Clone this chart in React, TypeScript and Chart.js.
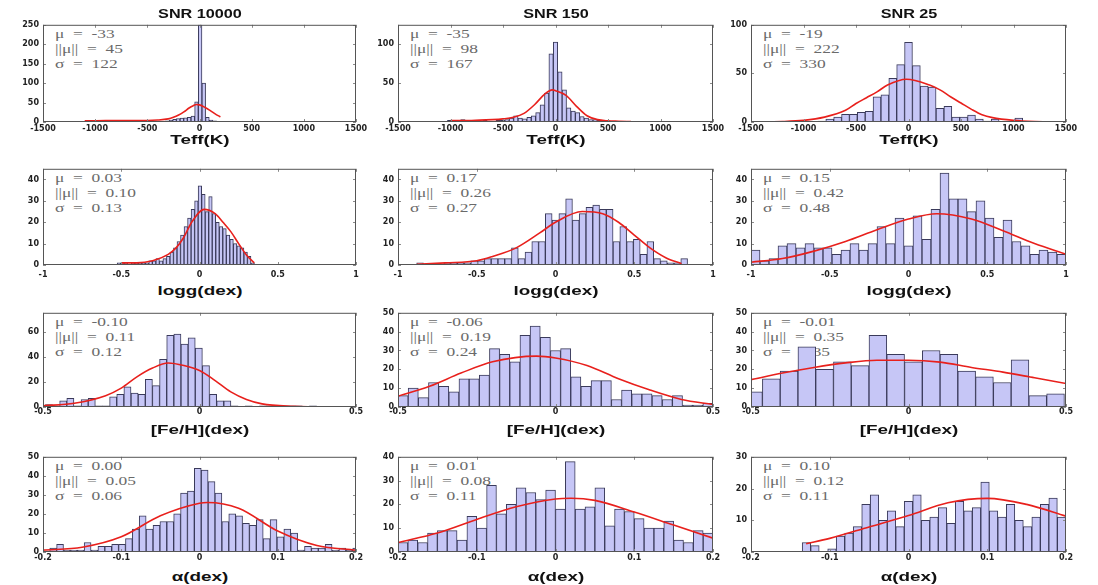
import React, { useEffect, useRef } from "react";
import { Chart, registerables } from "chart.js";

Chart.register(...registerables);

// ---------------- data ----------------
const columnTitles = ["SNR 10000", "SNR 150", "SNR 25"];
const rowLabels = ["Teff(K)", "logg(dex)", "[Fe/H](dex)", "α(dex)"];
const rowXMin = [-1500, -1, -0.5, -0.2];
const rowXMax = [1500, 1, 0.5, 0.2];
const rowXStep = [500, 0.5, 0.5, 0.1];
const panelYMax = [
  [250, 124, 100],
  [45, 45, 45],
  [75, 50, 50],
  [50, 40, 30],
];
const panelYStep = [
  [50, 50, 50],
  [10, 10, 10],
  [20, 10, 10],
  [10, 10, 10],
];

// Teff, SNR 10000
const teffA_binStart = -1079;
const teffA_binWidth = 35;
const teffA_counts = [1, 0, 1, 1, 0, 1, 1, 0, 1, 1, 0, 1, 1, 1, 0, 1, 1, 1, 2, 1, 2, 2, 3, 5, 7, 9, 10, 11, 12, 15, 52, 250, 100, 12, 5, 3, 2, 1];
const teffA_fitX = [-1100, -900, -700, -500, -400, -300, -250, -200, -150, -100, -60, -30, 0, 50, 100, 150, 200];
const teffA_fitY = [3, 4, 4, 4, 5, 8, 12, 18, 26, 36, 42, 45, 44, 38, 30, 21, 13];
const teffA_stats = ["μ = -33", "||μ|| = 45", "σ = 122"];

// Teff, SNR 150
const teffB_binStart = -1008;
const teffB_binWidth = 42;
const teffB_counts = [2, 1, 1, 3, 1, 1, 1, 1, 2, 1, 1, 2, 2, 3, 5, 8, 5, 4, 6, 8, 12, 22, 37, 87, 102, 64, 41, 18, 14, 12, 7, 5, 3, 3, 2, 2, 1, 1, 1, 1, 1, 1];
const teffB_fitX = [-1000, -800, -600, -500, -400, -300, -200, -100, -30, 0, 100, 200, 300, 400, 500, 600, 720];
const teffB_fitY = [2, 2, 3, 4, 6, 11, 22, 36, 41, 40, 34, 20, 8, 3, 1.5, 1, 0.5];
const teffB_stats = ["μ = -35", "||μ|| = 98", "σ = 167"];

// Teff, SNR 25
const teffC_binStart = -825;
const teffC_binWidth = 75;
const teffC_counts = [1, 3, 5, 8, 8, 10, 11, 26, 28, 45, 59, 82, 58, 37, 36, 14, 16, 5, 5, 7, 3, 1, 3, 0, 0, 4];
const teffC_fitX = [-1500, -1200, -1000, -800, -600, -500, -400, -300, -200, -19, 200, 300, 400, 500, 600, 700, 800, 1000, 1200, 1500];
const teffC_fitY = [0, 0.5, 1.7, 5, 12, 19, 25, 31, 38, 44, 38, 33, 26, 19.5, 13, 7.5, 4.5, 1.7, 0.5, 0];
const teffC_stats = ["μ = -19", "||μ|| = 222", "σ = 330"];

// logg, SNR 10000
const loggA_binStart = -0.515;
const loggA_binWidth = 0.0225;
const loggA_counts = [1, 1, 1, 0, 1, 1, 1, 1, 1, 2, 2, 3, 2, 3, 4, 6, 8, 11, 14, 18, 22, 26, 30, 37, 33, 25, 32, 24, 20, 18, 17, 14, 12, 10, 9, 8, 6, 4, 1];
const loggA_fitX = [-0.5, -0.4, -0.3, -0.2, -0.15, -0.1, -0.05, 0.03, 0.1, 0.15, 0.2, 0.25, 0.3, 0.35];
const loggA_fitY = [1, 1, 2, 5, 8, 13, 20, 26, 24, 20, 15.6, 10, 4.7, 1];
const loggA_stats = ["μ = 0.03", "||μ|| = 0.10", "σ = 0.13"];

// logg, SNR 150
const loggB_binStart = -0.86;
const loggB_binWidth = 0.043;
const loggB_counts = [1, 0, 0, 0, 1, 1, 1, 1, 2, 2, 3, 3, 3, 3, 8, 3, 6, 11, 11, 24, 21, 24, 31, 21, 24, 27, 28, 26, 26, 11, 18, 11, 12, 5, 11, 3, 2, 1, 1, 3];
const loggB_fitX = [-0.88, -0.7, -0.5, -0.4, -0.25, -0.1, 0, 0.17, 0.3, 0.4, 0.5, 0.6, 0.7, 0.8];
const loggB_fitY = [0.3, 1, 2, 4, 8, 15, 20, 25, 24, 20, 14, 8, 3.4, 0.6];
const loggB_stats = ["μ = 0.17", "||μ|| = 0.26", "σ = 0.27"];

// logg, SNR 25
const loggC_binStart = -0.9714;
const loggC_binWidth = 0.05714;
const loggC_counts = [7, 2, 3, 9, 10, 8, 10, 8, 8, 5, 7, 10, 7, 10, 18, 10, 22, 9, 23, 12, 26, 43, 31, 31, 25, 30, 22, 13, 21, 11, 9, 5, 7, 6, 5];
const loggC_fitX = [-1, -0.8, -0.6, -0.4, -0.2, 0, 0.18, 0.4, 0.6, 0.8, 1];
const loggC_fitY = [1.3, 3, 6.5, 11, 16.5, 21.5, 24, 21.5, 16, 10, 5];
const loggC_stats = ["μ = 0.15", "||μ|| = 0.42", "σ = 0.48"];

// [Fe/H], SNR 10000
const fehA_binStart = -0.481;
const fehA_binWidth = 0.0228;
const fehA_counts = [2, 1, 5, 7, 1, 6, 7, 1, 1, 8, 10, 16, 11, 10, 22, 17, 38, 57, 58, 50, 55, 47, 33, 10, 5, 5, 1, 0, 1, 0, 1, 1, 0, 1, 1, 1, 0, 1];
const fehA_fitX = [-0.5, -0.4, -0.3, -0.25, -0.2, -0.15, -0.1, -0.05, 0, 0.05, 0.1, 0.15, 0.2, 0.3, 0.37];
const fehA_fitY = [1, 3, 9, 15, 24, 31, 35, 33, 29, 21, 12, 6, 2.5, 0.5, 0.1];
const fehA_stats = ["μ = -0.10", "||μ|| = 0.11", "σ = 0.12"];

// [Fe/H], SNR 150
const fehB_binStart = -0.4839;
const fehB_binWidth = 0.03226;
const fehB_counts = [6, 10, 5, 13, 11, 8, 15, 15, 17, 31, 28, 24, 38, 43, 37, 30, 31, 16, 11, 14, 14, 4, 9, 7, 7, 6, 4, 6, 1, 1, 2];
const fehB_fitX = [-0.5, -0.4, -0.3, -0.2, -0.06, 0, 0.1, 0.2, 0.3, 0.4, 0.5];
const fehB_fitY = [5.7, 11, 18, 24, 27, 26, 22, 15, 9, 4, 1.3];
const fehB_stats = ["μ = -0.06", "||μ|| = 0.19", "σ = 0.24"];

// [Fe/H], SNR 25
const fehC_binStart = -0.492;
const fehC_binWidth = 0.0564;
const fehC_counts = [8, 15, 19, 32, 20, 24, 22, 38, 28, 24, 30, 28, 19, 16, 13, 25, 6, 7];
const fehC_fitX = [-0.5, -0.4, -0.3, -0.2, -0.1, 0, 0.1, 0.2, 0.3, 0.4, 0.5];
const fehC_fitY = [14.5, 18, 21, 23.4, 24.8, 24.8, 23.8, 21, 18.5, 15.5, 12.5];
const fehC_stats = ["μ = -0.01", "||μ|| = 0.35", "σ = 0.35"];

// alpha, SNR 10000
const alphaA_binStart = -0.187;
const alphaA_binWidth = 0.0088;
const alphaA_counts = [2, 4, 1, 1, 1, 5, 1, 3, 3, 4, 4, 7, 12, 19, 12, 14, 16, 16, 20, 31, 32, 44, 43, 37, 31, 16, 20, 19, 15, 14, 17, 7, 17, 8, 12, 10, 1, 3, 2, 2, 4, 1, 2, 1, 2];
const alphaA_fitX = [-0.2, -0.15, -0.1, -0.05, 0, 0.01, 0.05, 0.1, 0.15, 0.2];
const alphaA_fitY = [1, 2.5, 8, 19, 25.6, 26, 23, 11, 3.4, 1];
const alphaA_stats = ["μ = 0.00", "||μ|| = 0.05", "σ = 0.06"];

// alpha, SNR 150
const alphaB_binStart = -0.19375;
const alphaB_binWidth = 0.0125;
const alphaB_counts = [4, 5, 4, 8, 9, 9, 5, 15, 10, 28, 16, 20, 27, 25, 22, 26, 18, 38, 18, 19, 27, 11, 18, 17, 14, 10, 10, 13, 5, 4, 9, 8];
const alphaB_fitX = [-0.2, -0.15, -0.1, -0.05, 0, 0.02, 0.05, 0.1, 0.15, 0.2];
const alphaB_fitY = [4, 8, 13.7, 19, 22.3, 22.6, 21.7, 16.8, 11.3, 5.8];
const alphaB_stats = ["μ = 0.01", "||μ|| = 0.08", "σ = 0.11"];

// alpha, SNR 25
const alphaC_binStart = -0.1296;
const alphaC_binWidth = 0.0108;
const alphaC_counts = [3, 2, 0, 1, 5, 6, 8, 15, 18, 10, 13, 8, 16, 18, 10, 11, 14, 9, 16, 13, 14, 22, 13, 11, 15, 10, 8, 11, 15, 17, 11];
const alphaC_fitX = [-0.13, -0.1, -0.05, 0, 0.05, 0.1, 0.15, 0.2];
const alphaC_fitY = [2.6, 4.3, 7.9, 11.5, 15.5, 16.9, 15, 11.3];
const alphaC_stats = ["μ = 0.10", "||μ|| = 0.12", "σ = 0.11"];

// ---------------- layout ----------------
const colLeft = [43, 398, 751];
const colRight = [356, 713, 1066];
const rowTop = [24, 168, 312, 456];
const rowBottom = [122, 265, 407, 552];
const rowTickPad = [2, 5, 0, 1];
const rowTitleY = [140, 291, 430, 577];
const Y_AXIS_W = 40;
const PAD_TOP = 8;
const PAD_RIGHT = 16;
const X_AXIS_H = 16;

type PanelCfg = {
  row: number;
  col: number;
  binStart: number;
  binWidth: number;
  counts: number[];
  fitX: number[];
  fitY: number[];
  stats: string[];
};

const panels: PanelCfg[] = [
  { row: 0, col: 0, binStart: teffA_binStart, binWidth: teffA_binWidth, counts: teffA_counts, fitX: teffA_fitX, fitY: teffA_fitY, stats: teffA_stats },
  { row: 0, col: 1, binStart: teffB_binStart, binWidth: teffB_binWidth, counts: teffB_counts, fitX: teffB_fitX, fitY: teffB_fitY, stats: teffB_stats },
  { row: 0, col: 2, binStart: teffC_binStart, binWidth: teffC_binWidth, counts: teffC_counts, fitX: teffC_fitX, fitY: teffC_fitY, stats: teffC_stats },
  { row: 1, col: 0, binStart: loggA_binStart, binWidth: loggA_binWidth, counts: loggA_counts, fitX: loggA_fitX, fitY: loggA_fitY, stats: loggA_stats },
  { row: 1, col: 1, binStart: loggB_binStart, binWidth: loggB_binWidth, counts: loggB_counts, fitX: loggB_fitX, fitY: loggB_fitY, stats: loggB_stats },
  { row: 1, col: 2, binStart: loggC_binStart, binWidth: loggC_binWidth, counts: loggC_counts, fitX: loggC_fitX, fitY: loggC_fitY, stats: loggC_stats },
  { row: 2, col: 0, binStart: fehA_binStart, binWidth: fehA_binWidth, counts: fehA_counts, fitX: fehA_fitX, fitY: fehA_fitY, stats: fehA_stats },
  { row: 2, col: 1, binStart: fehB_binStart, binWidth: fehB_binWidth, counts: fehB_counts, fitX: fehB_fitX, fitY: fehB_fitY, stats: fehB_stats },
  { row: 2, col: 2, binStart: fehC_binStart, binWidth: fehC_binWidth, counts: fehC_counts, fitX: fehC_fitX, fitY: fehC_fitY, stats: fehC_stats },
  { row: 3, col: 0, binStart: alphaA_binStart, binWidth: alphaA_binWidth, counts: alphaA_counts, fitX: alphaA_fitX, fitY: alphaA_fitY, stats: alphaA_stats },
  { row: 3, col: 1, binStart: alphaB_binStart, binWidth: alphaB_binWidth, counts: alphaB_counts, fitX: alphaB_fitX, fitY: alphaB_fitY, stats: alphaB_stats },
  { row: 3, col: 2, binStart: alphaC_binStart, binWidth: alphaC_binWidth, counts: alphaC_counts, fitX: alphaC_fitX, fitY: alphaC_fitY, stats: alphaC_stats },
];

const fmtTick = (v: any) => String(Number(Number(v).toFixed(3)));

// inward tick marks + box, Matlab style
const framePlugin = {
  id: "matlabFrame",
  afterDatasetsDraw(chart: any) {
    const { ctx, chartArea } = chart;
    const { left, right, top, bottom } = chartArea;
    const xs = chart.scales.x;
    const ys = chart.scales.y;
    const tl = 3;
    ctx.save();
    ctx.strokeStyle = "#8a8a8a";
    ctx.lineWidth = 1;
    ctx.beginPath();
    xs.ticks.forEach((t: any) => {
      const px = Math.round(xs.getPixelForValue(t.value)) + 0.5;
      ctx.moveTo(px, bottom);
      ctx.lineTo(px, bottom - tl);
      ctx.moveTo(px, top);
      ctx.lineTo(px, top + tl);
    });
    ys.ticks.forEach((t: any) => {
      const py = Math.round(ys.getPixelForValue(t.value)) + 0.5;
      ctx.moveTo(left, py);
      ctx.lineTo(left + tl, py);
      ctx.moveTo(right, py);
      ctx.lineTo(right - tl, py);
    });
    ctx.stroke();
    ctx.strokeStyle = "#555";
    ctx.strokeRect(left + 0.5, top + 0.5, right - left - 1, bottom - top - 1);
    ctx.restore();
  },
};

function Panel({ p }: { p: PanelCfg }) {
  const ref = useRef<HTMLCanvasElement>(null);
  const plotW = colRight[p.col] - colLeft[p.col];
  const plotH = rowBottom[p.row] - rowTop[p.row];
  const w = Y_AXIS_W + plotW + PAD_RIGHT;
  const h = PAD_TOP + plotH + X_AXIS_H;

  useEffect(() => {
    if (!ref.current) return;
    const barData = p.counts.map((c, i) => ({ x: p.binStart + i * p.binWidth, y: c }));
    const lineData = p.fitX.map((x, i) => ({ x, y: p.fitY[i] }));
    const tickFont = { family: "DejaVu Sans", size: 8, weight: "bold" as const };
    const chart = new Chart(ref.current, {
      type: "bar",
      data: {
        datasets: [
          {
            type: "line",
            data: lineData as any,
            borderColor: "#e8201c",
            borderWidth: 1.6,
            pointRadius: 0,
            cubicInterpolationMode: "monotone",
            fill: false,
            order: 1,
            clip: 0 as any,
          } as any,
          {
            type: "bar",
            data: barData as any,
            backgroundColor: "#c6c6f6",
            borderColor: "#3a3a5a",
            borderWidth: 1,
            borderSkipped: false,
            barPercentage: 1,
            categoryPercentage: 1,
            order: 2,
            clip: 0 as any,
          } as any,
        ],
      },
      options: {
        animation: false,
        responsive: false,
        maintainAspectRatio: false,
        events: [],
        layout: { padding: { top: PAD_TOP, right: PAD_RIGHT, left: 0, bottom: 0 } },
        plugins: { legend: { display: false }, tooltip: { enabled: false } },
        scales: {
          x: {
            type: "linear",
            min: rowXMin[p.row],
            max: rowXMax[p.row],
            offset: false,
            grid: { display: false, drawTicks: false, offset: false },
            border: { display: false },
            ticks: {
              stepSize: rowXStep[p.row],
              autoSkip: false,
              maxRotation: 0,
              minRotation: 0,
              includeBounds: false,
              padding: rowTickPad[p.row],
              color: "#222",
              font: tickFont,
              callback: fmtTick,
            },
            afterFit: (s: any) => {
              s.height = X_AXIS_H;
            },
          },
          y: {
            type: "linear",
            min: 0,
            max: panelYMax[p.row][p.col],
            grid: { display: false, drawTicks: false },
            border: { display: false },
            ticks: {
              stepSize: panelYStep[p.row][p.col],
              includeBounds: false,
              autoSkip: false,
              padding: 4,
              color: "#222",
              font: tickFont,
              callback: fmtTick,
            },
            afterFit: (s: any) => {
              s.width = Y_AXIS_W;
            },
          },
        },
      } as any,
      plugins: [framePlugin],
    });
    return () => chart.destroy();
  }, []);

  return (
    <canvas
      ref={ref}
      width={w}
      height={h}
      style={{
        position: "absolute",
        left: colLeft[p.col] - Y_AXIS_W,
        top: rowTop[p.row] - PAD_TOP,
        width: w,
        height: h,
        zIndex: 1,
      }}
    />
  );
}

function CenterText({ x, y, text, size, sx }: { x: number; y: number; text: string; size: number; sx: number }) {
  const lh = Math.round(size * 1.2);
  return (
    <div
      style={{
        position: "absolute",
        left: x,
        top: y - lh / 2,
        lineHeight: lh + "px",
        fontFamily: "'Liberation Sans', Arial, sans-serif",
        fontWeight: "bold",
        fontSize: size,
        color: "#111",
        whiteSpace: "nowrap",
        transform: `translateX(-50%) scaleX(${sx})`,
        zIndex: 2,
      }}
    >
      {text}
    </div>
  );
}

export default function App() {
  return (
    <div
      style={{
        position: "absolute",
        left: 0,
        top: 0,
        width: 1098,
        height: 585,
        background: "#fff",
        overflow: "hidden",
      }}
    >
      {panels.map((p, i) =>
        p.stats.map((s, j) => (
          <div
            key={`s${i}-${j}`}
            style={{
              position: "absolute",
              left: colLeft[p.col] + 12,
              top: rowTop[p.row] + 10 + j * 15 - 7,
              lineHeight: "14px",
              fontFamily: "'Liberation Serif', 'DejaVu Serif', serif",
              fontSize: 12,
              color: "#6a6a6a",
              whiteSpace: "pre",
              transformOrigin: "left center",
              transform: "scaleX(1.45)",
              zIndex: 0,
            }}
          >
            {s.replace(" = ", "\u2002=\u2002")}
          </div>
        ))
      )}
      {panels.map((p, i) => (
        <Panel key={`p${i}`} p={p} />
      ))}
      {columnTitles.map((t, c) => (
        <CenterText key={`t${c}`} x={(colLeft[c] + colRight[c]) / 2} y={14} text={t} size={12} sx={1.35} />
      ))}
      {rowLabels.map((lab, r) =>
        [0, 1, 2].map((c) => (
          <CenterText key={`l${r}-${c}`} x={(colLeft[c] + colRight[c]) / 2} y={rowTitleY[r]} text={lab} size={13} sx={1.45} />
        ))
      )}
    </div>
  );
}
